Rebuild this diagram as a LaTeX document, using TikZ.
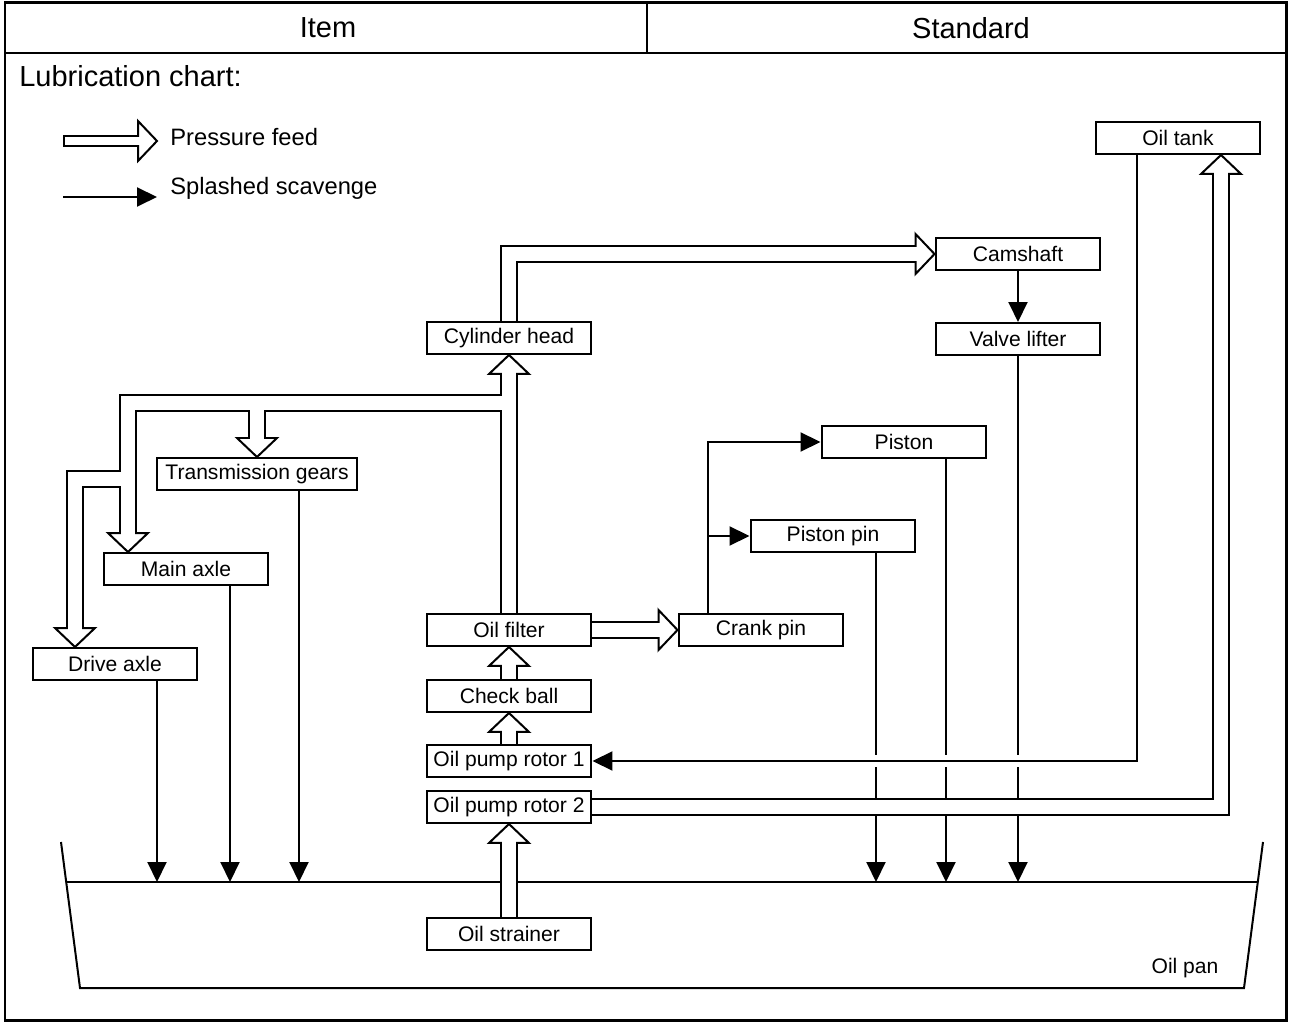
\documentclass[tikz,border=0pt]{standalone}
\usepackage{fontspec}
\setmainfont{Liberation Sans}
\usetikzlibrary{arrows.meta,calc}
\tikzset{
  box/.style={rectangle, draw, line width=0.04cm, fill=white, inner sep=0pt,
              minimum width=3.3cm, minimum height=0.64cm, font=\fontsize{12}{14}\selectfont},
  headtxt/.style={font=\fontsize{16.5}{19}\selectfont, inner sep=0pt},
  lgd/.style={font=\fontsize{13.5}{16}\selectfont, inner sep=0pt},
  flow/.style={-{Triangle[length=0.4cm,width=0.38cm]}, line width=0.04cm},
  jumpgap/.style={preaction={draw=white, line width=0.24cm, -}},
  pipeout/.style={line width=0.36cm, draw=black},
  pipein/.style={line width=0.28cm, draw=white, shorten >=-0.05cm},
  lgout/.style={line width=0.25cm, draw=black},
  lgin/.style={line width=0.17cm, draw=white, shorten <=0.04cm, shorten >=-0.05cm},
  headst/.style={draw, fill=white, line width=0.04cm, line join=miter},
}
% hollow arrow head: tip, direction
\newcommand{\phead}[2]{\draw[headst, shift={#1}, rotate=#2] (0,0) -- (-19,-20) -- (-19,20) -- cycle;}
% all pressure-feed pipes, drawn once as walls and once as the hollow inside
\newcommand{\pipenet}[1]{%
  \draw[#1] (filter.north) -- ($(cyl.south)+(0,19)$);
  \draw[#1] (cyl.north) |- ($(cam.west)+(-19,0)$);
  \draw[#1] (tee) -| ($(trans.north)+(0,-19)$);
  \draw[#1] (tee) -| ($(mainin)+(0,-19)$);
  \draw[#1] (mtee) -| ($(drivein)+(0,-19)$);
  \draw[#1] (filter.east) -- ($(crank.west)+(-19,0)$);
  \draw[#1] (check.north) -- ($(filter.south)+(0,19)$);
  \draw[#1] (rotor1.north) -- ($(check.south)+(0,19)$);
  \draw[#1] (strainer.north) -- ($(rotor2.south)+(0,19)$);
  \draw[#1] (rotor2.east) -| ($(tankin)+(0,19)$);
}

\begin{document}
\begin{tikzpicture}[x=0.02cm, y=-0.02cm]
  \useasboundingbox (0,0) rectangle (1289,1023);

  % table frame
  \draw[line width=0.06cm] (5,3) rectangle (1286,1020);
  \draw[line width=0.03cm] (5,53) -- (1286,53) (647,3) -- (647,53);
  \node[headtxt] (item) at (328,28) {Item};
  \node[headtxt] (std) at (971,28) {Standard};
  \node[headtxt, anchor=west] (title) at (19,76) {Lubrication chart:};

  % boxes
  \node[box] (tank) at (1178,138) {Oil tank};
  \node[box] (cam) at (1018,254) {Camshaft};
  \node[box] (lifter) at (1018,339) {Valve lifter};
  \node[box] (cyl) at (509,338) {Cylinder head};
  \node[box] (piston) at (904,442) {Piston};
  \node[box, minimum width=4.02cm] (trans) at (257,474) {Transmission gears};
  \node[box] (pin) at (833,536) {Piston pin};
  \node[box] (main) at (186,569) {Main axle};
  \node[box] (filter) at (509,630) {Oil filter};
  \node[box] (crank) at (761,630) {Crank pin};
  \node[box] (drive) at (115,664) {Drive axle};
  \node[box] (check) at (509,696) {Check ball};
  \node[box] (rotor1) at (509,761) {Oil pump rotor 1};
  \node[box] (rotor2) at (509,807) {Oil pump rotor 2};
  \node[box] (strainer) at (509,934) {Oil strainer};

  % oil pan
  \coordinate (pantl) at (61,842);
  \coordinate (panbl) at (80,988);
  \coordinate (panbr) at (1244,988);
  \coordinate (pantr) at (1263,842);
  \coordinate (lvll) at ($(pantl)!0.274!(panbl)$);
  \coordinate (lvlr) at ($(pantr)!0.274!(panbr)$);
  \draw[line width=0.04cm] (pantl) -- (panbl) -- (panbr) -- (pantr);
  \draw[line width=0.04cm] (lvll) -- (lvlr);
  \node[box, draw=none, fill=none, minimum width=0pt] (pan) at (1185,968) {Oil pan};

  % splashed scavenge
  \foreach \b/\dx in {drive/42, main/44, trans/42, pin/43, piston/42, lifter/0} {
    \coordinate (s\b) at ($(\b.south)+(\dx,0)$);
    \draw[flow] (s\b) -- (s\b |- lvll);
  }
  \draw[flow] (cam) -- (lifter);
  \coordinate (cpup) at ($(crank.north)+(-53,0)$);
  \draw[flow] (cpup) |- (piston.west);
  \draw[flow] (cpup) |- (pin.west);
  \coordinate (tankout) at ($(tank.south)+(-41,0)$);
  \draw[flow, jumpgap] (tankout) |- (rotor1.east);

  % pressure feed
  \coordinate (tee) at ($(cyl.south)+(0,48)$);
  \coordinate (mainin) at ($(main.north)+(-58,0)$);
  \coordinate (mtee) at ($(mainin)+(0,-73)$);
  \coordinate (drivein) at ($(drive.north)+(-40,0)$);
  \coordinate (tankin) at ($(tank.south)+(43,0)$);
  \pipenet{pipeout}
  \phead{(cyl.south)}{90}
  \phead{(cam.west)}{0}
  \phead{(trans.north)}{-90}
  \phead{(mainin)}{-90}
  \phead{(drivein)}{-90}
  \phead{(crank.west)}{0}
  \phead{(filter.south)}{90}
  \phead{(check.south)}{90}
  \phead{(rotor2.south)}{90}
  \phead{(tankin)}{90}
  \pipenet{pipein}

  % legend
  \coordinate (lgfa) at (63,141);
  \coordinate (lgfb) at (157,141);
  \draw[lgout] (lgfa) -- ($(lgfb)+(-19,0)$);
  \phead{(lgfb)}{0}
  \draw[lgin] (lgfa) -- ($(lgfb)+(-19,0)$);
  \node[lgd, anchor=west] (lgf) at (170,137) {Pressure feed};
  \coordinate (lgsa) at (63,197);
  \coordinate (lgsb) at (157,197);
  \draw[flow] (lgsa) -- (lgsb);
  \node[lgd, anchor=west] (lgs) at (170,188) {Splashed scavenge};
\end{tikzpicture}
\end{document}
